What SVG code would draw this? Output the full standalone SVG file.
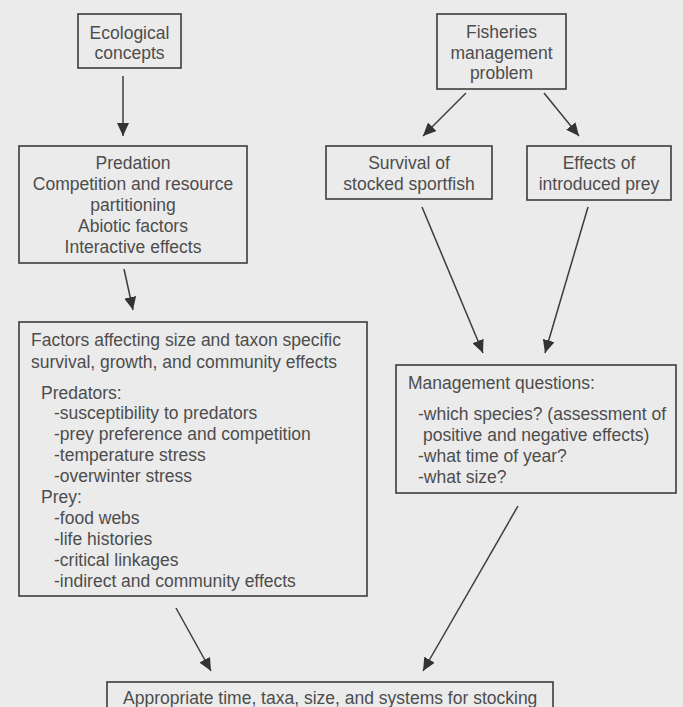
<svg xmlns="http://www.w3.org/2000/svg" width="683" height="707" viewBox="0 0 683 707">
<defs>
<style>
.box{fill:none;stroke:#3c3c3c;stroke-width:1.6}
.t{font-family:"Liberation Sans",Arial,sans-serif;font-size:17.5px;fill:#4d4d4d}
.c{text-anchor:middle}
.edge{stroke:#3c3c3c;stroke-width:1.5;fill:none;marker-end:url(#ah)}
</style>
<marker id="ah" markerUnits="userSpaceOnUse" markerWidth="14" markerHeight="12" refX="13" refY="6" orient="auto">
<path d="M0,0 L13,6 L0,12 Z" fill="#333"/>
</marker>
</defs>
<rect width="683" height="707" fill="#ebebeb"/>
<g id="connectors">
<line class="edge" x1="123" y1="76" x2="123" y2="136"/>
<line class="edge" x1="124" y1="269" x2="133" y2="310"/>
<line class="edge" x1="466" y1="93" x2="423" y2="136"/>
<line class="edge" x1="544" y1="93" x2="579" y2="136"/>
<line class="edge" x1="422" y1="207" x2="483" y2="353"/>
<line class="edge" x1="588" y1="207" x2="545" y2="353"/>
<line class="edge" x1="176" y1="608" x2="211" y2="671"/>
<line class="edge" x1="518" y1="506" x2="423" y2="671"/>
</g>
<g id="ecological">
<rect class="box" x="78" y="14" width="103" height="54"/>
<text class="t c" x="129.5" y="39">Ecological</text>
<text class="t c" x="129.5" y="59">concepts</text>
</g>
<g id="fisheries">
<rect class="box" x="437" y="14" width="129" height="75"/>
<text class="t c" x="501.5" y="38">Fisheries</text>
<text class="t c" x="501.5" y="59">management</text>
<text class="t c" x="501.5" y="79">problem</text>
</g>
<g id="concepts">
<rect class="box" x="19" y="146" width="228" height="117"/>
<text class="t c" x="133" y="169">Predation</text>
<text class="t c" x="133" y="190">Competition and resource</text>
<text class="t c" x="133" y="211">partitioning</text>
<text class="t c" x="133" y="232">Abiotic factors</text>
<text class="t c" x="133" y="253">Interactive effects</text>
</g>
<g id="survival">
<rect class="box" x="326" y="146" width="166" height="53"/>
<text class="t c" x="409" y="169">Survival of</text>
<text class="t c" x="409" y="190">stocked sportfish</text>
</g>
<g id="effects">
<rect class="box" x="527" y="146" width="144" height="54"/>
<text class="t c" x="599" y="169">Effects of</text>
<text class="t c" x="599" y="190">introduced prey</text>
</g>
<g id="factors">
<rect class="box" x="19" y="322" width="348" height="274"/>
<text class="t" x="31" y="346">Factors affecting size and taxon specific</text>
<text class="t" x="31" y="368">survival, growth, and community effects</text>
<text class="t" x="41" y="399">Predators:</text>
<text class="t" x="54" y="419">-susceptibility to predators</text>
<text class="t" x="54" y="440">-prey preference and competition</text>
<text class="t" x="54" y="461">-temperature stress</text>
<text class="t" x="54" y="482">-overwinter stress</text>
<text class="t" x="41" y="503">Prey:</text>
<text class="t" x="54" y="524">-food webs</text>
<text class="t" x="54" y="545">-life histories</text>
<text class="t" x="54" y="566">-critical linkages</text>
<text class="t" x="54" y="587">-indirect and community effects</text>
</g>
<g id="management">
<rect class="box" x="396" y="365" width="280" height="128"/>
<text class="t" x="408" y="389">Management questions:</text>
<text class="t" x="418" y="420">-which species? (assessment of</text>
<text class="t" x="423" y="441">positive and negative effects)</text>
<text class="t" x="418" y="462">-what time of year?</text>
<text class="t" x="418" y="483">-what size?</text>
</g>
<g id="outcome">
<rect class="box" x="107" y="682" width="446" height="40"/>
<text class="t" x="123" y="704">Appropriate time, taxa, size, and systems for stocking</text>
</g>
</svg>
